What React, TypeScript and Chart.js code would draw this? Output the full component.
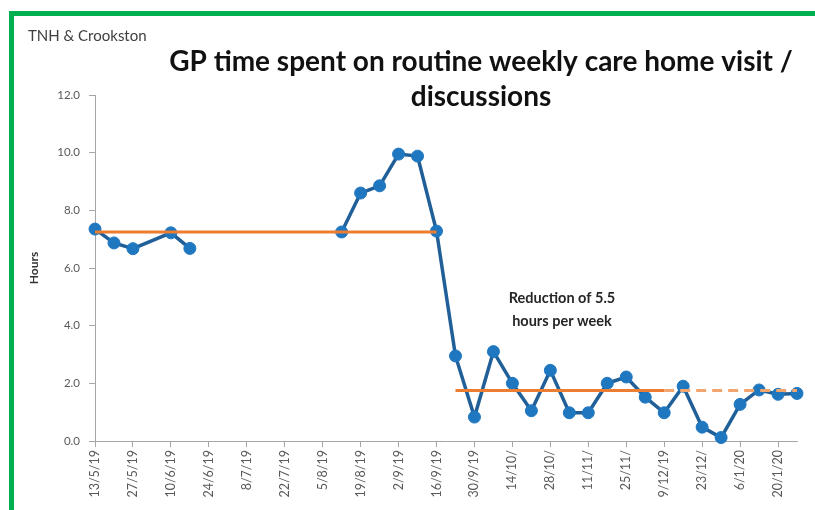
import React, { useEffect, useRef } from "react";
import { Chart, registerables } from "chart.js";

Chart.register(...registerables);

// Weekly categories (Monday of each week)
const weeks = [
  "13/5/19", "20/5/19", "27/5/19", "3/6/19", "10/6/19", "17/6/19", "24/6/19", "1/7/19",
  "8/7/19", "15/7/19", "22/7/19", "29/7/19", "5/8/19", "12/8/19", "19/8/19", "26/8/19",
  "2/9/19", "9/9/19", "16/9/19", "23/9/19", "30/9/19", "7/10/19", "14/10/19", "21/10/19",
  "28/10/19", "4/11/19", "11/11/19", "18/11/19", "25/11/19", "2/12/19", "9/12/19", "16/12/19",
  "23/12/19", "30/12/19", "6/1/20", "13/1/20", "20/1/20", "27/1/20",
];

// Tick labels as shown (every second week)
const tickText = [
  "13/5/19", "27/5/19", "10/6/19", "24/6/19", "8/7/19", "22/7/19", "5/8/19", "19/8/19",
  "2/9/19", "16/9/19", "30/9/19", "14/10/", "28/10/", "11/11/", "25/11/", "9/12/19",
  "23/12/", "6/1/20", "20/1/20",
];

// GP hours per week (null = blank week)
const hours: (number | null)[] = [
  7.35, 6.87, 6.67, null, 7.22, 6.68, null, null,
  null, null, null, null, null, 7.25, 8.6, 8.85,
  9.95, 9.88, 7.28, 2.95, 0.83, 3.1, 2.0, 1.05,
  2.45, 0.98, 0.98, 2.0, 2.22, 1.52, 0.98, 1.9,
  0.48, 0.12, 1.27, 1.77, 1.62, 1.65,
];

// Weeks with no row at all (line joins across them)
const notRecorded = ["3/6/19"];

const medianBefore = 7.25;
const medianAfter = 1.75;
const changeWeek = 19; // index of first week of new median
const projectionFrom = 30; // index where the median becomes dashed

const yTicks = { min: 0, max: 12, step: 2 };

export default function App() {
  const ref = useRef<HTMLCanvasElement>(null);

  useEffect(() => {
    const canvas = ref.current;
    if (!canvas) return;

    const textPlugin = {
      id: "texts",
      afterDraw(chart: any) {
        const ctx = chart.ctx as CanvasRenderingContext2D;
        ctx.save();
        ctx.textBaseline = "middle";
        ctx.textAlign = "left";
        ctx.fillStyle = "#404040";
        ctx.font = "15px Lato";
        ctx.fillText("TNH & Crookston", 28, 36);

        ctx.textAlign = "center";
        ctx.fillStyle = "#111111";
        ctx.font = "bold 28px Lato";
        ctx.fillText("GP time spent on routine weekly care home visit /", 481, 62);
        ctx.fillText("discussions", 481, 97);

        ctx.fillStyle = "#262626";
        ctx.font = "bold 14.5px Lato";
        ctx.fillText("Reduction of 5.5", 562, 298);
        ctx.fillText("hours per week", 562, 321);
        ctx.restore();
      },
    };

    const blueData = weeks
      .map((w, i) => ({ x: w, y: hours[i] }))
      .filter((p) => !notRecorded.includes(p.x));

    const chart = new Chart(canvas, {
      type: "line",
      data: {
        labels: weeks,
        datasets: [
          {
            label: "Median before",
            data: weeks.map((_, i) => (i < changeWeek ? medianBefore : null)),
            borderColor: "#ED7D31",
            borderWidth: 3,
            pointRadius: 0,
            order: 0,
          },
          {
            label: "Median after",
            data: weeks.map((_, i) => (i >= changeWeek ? medianAfter : null)),
            borderColor: "#ED7D31",
            borderWidth: 3,
            pointRadius: 0,
            order: 0,
            segment: {
              borderDash: (c: any) => (c.p0DataIndex >= projectionFrom ? [10, 6] : undefined),
              borderColor: (c: any) => (c.p0DataIndex >= projectionFrom ? "#F2A66E" : undefined),
            },
          },
          {
            label: "Hours",
            data: blueData as any,
            borderColor: "#205f98",
            borderWidth: 3.5,
            pointRadius: 6,
            pointBackgroundColor: "#1f77c0",
            pointBorderColor: "#1f77c0",
            pointBorderWidth: 1,
            clip: false as any,
            order: 1,
          },
        ],
      },
      options: {
        responsive: false,
        animation: false,
        devicePixelRatio: 1,
        layout: { padding: { top: 95, right: 18, left: 0, bottom: 0 } },
        plugins: {
          legend: { display: false },
          tooltip: { enabled: false },
          title: { display: false },
        },
        scales: {
          x: {
            type: "category",
            offset: false,
            border: { color: "#a6a6a6", width: 1 },
            grid: {
              drawOnChartArea: false,
              tickLength: 6,
              color: (c: any) => (c.index % 2 === 0 ? "#a6a6a6" : "rgba(0,0,0,0)"),
            },
            ticks: {
              autoSkip: false,
              maxRotation: 90,
              minRotation: 90,
              padding: 3,
              color: "#595959",
              font: { family: "Lato", size: 12.5 },
              callback: (_v: any, i: number) => (i % 2 === 0 ? tickText[i / 2] ?? "" : ""),
            },
            afterFit: (s: any) => {
              s.height = 69;
            },
          },
          y: {
            min: yTicks.min,
            max: yTicks.max,
            border: { color: "#a6a6a6", width: 1 },
            grid: { drawOnChartArea: false, tickLength: 6, color: "#a6a6a6" },
            ticks: {
              stepSize: yTicks.step,
              padding: 9,
              color: "#595959",
              font: { family: "Lato", size: 11.5 },
              callback: (v: any) => Number(v).toFixed(1),
            },
            title: {
              display: true,
              text: "Hours",
              color: "#333333",
              font: { family: "Lato", size: 12, weight: "bold" },
              padding: { top: 27, bottom: 0 },
            },
            afterFit: (s: any) => {
              s.width = 95;
            },
          },
        },
      },
      plugins: [textPlugin],
    });

    return () => chart.destroy();
  }, []);

  return (
    <div
      style={{
        position: "absolute",
        left: 0,
        top: 0,
        width: 815,
        height: 510,
        background: "#ffffff",
        overflow: "hidden",
      }}
    >
      <canvas ref={ref} width={815} height={510} style={{ display: "block", width: 815, height: 510 }} />
      <div
        style={{
          position: "absolute",
          left: 9,
          top: 11,
          right: 0,
          bottom: 0,
          borderTop: "5px solid #00B050",
          borderLeft: "5px solid #00B050",
          pointerEvents: "none",
        }}
      />
    </div>
  );
}
